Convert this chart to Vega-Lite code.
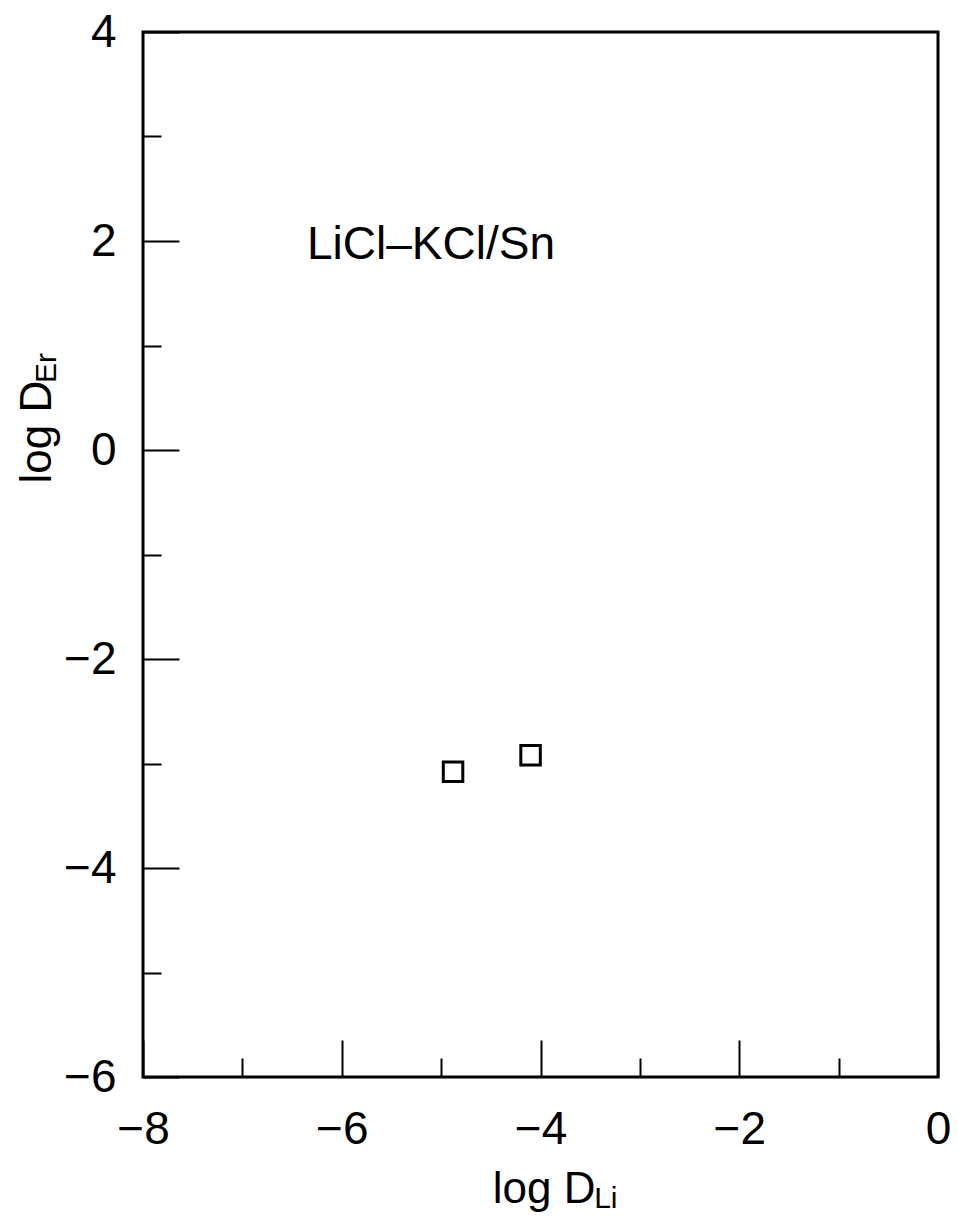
{
  "$schema": "https://vega.github.io/schema/vega-lite/v6.json",
  "width": 795,
  "height": 1045,
  "autosize": "none",
  "padding": {"left": 143, "top": 32, "right": 20, "bottom": 139},
  "background": "white",
  "config": {
    "view": {"stroke": "black", "strokeWidth": 3},
    "font": "Liberation Sans"
  },
  "layer": [
    {
      "data": {"values": [{"x": -4.88, "y": -3.08}, {"x": -4.10, "y": -2.92}]},
      "mark": {"type": "point", "shape": "square", "size": 380, "filled": false, "stroke": "black", "strokeWidth": 3, "opacity": 1},
      "encoding": {
        "x": {
          "field": "x", "type": "quantitative",
          "scale": {"domain": [-8, 0], "nice": false, "zero": false},
          "axis": {
            "title": "log D",
            "values": [-8, -7, -6, -5, -4, -3, -2, -1, 0],
            "format": "d",
            "labelExpr": "datum.value % 2 === 0 ? datum.label : ''",
            "domain": false, "grid": false,
            "tickColor": "black", "tickWidth": 2,
            "tickSize": {"condition": {"test": "datum.value % 2 === 0", "value": -37}, "value": -19},
            "labelFontSize": 46, "labelColor": "black", "labelPadding": 67, "labelFlush": false, "labelFont": "Liberation Sans",
            "titleFontSize": 44, "titleFontWeight": "normal", "titleColor": "black", "titleFont": "Liberation Sans",
            "titleAlign": "right", "titleX": 452, "titleY": 125, "titleBaseline": "alphabetic"
          }
        },
        "y": {
          "field": "y", "type": "quantitative",
          "scale": {"domain": [-6, 4], "nice": false, "zero": false},
          "axis": {
            "title": "log D",
            "values": [-6, -5, -4, -3, -2, -1, 0, 1, 2, 3, 4],
            "format": "d",
            "labelExpr": "datum.value % 2 === 0 ? datum.label : ''",
            "domain": false, "grid": false,
            "tickColor": "black", "tickWidth": 2,
            "tickSize": {"condition": {"test": "datum.value % 2 === 0", "value": -36}, "value": -18},
            "labelFontSize": 46, "labelColor": "black", "labelPadding": 63, "labelFlush": false, "labelFont": "Liberation Sans",
            "titleFontSize": 44, "titleFontWeight": "normal", "titleColor": "black", "titleFont": "Liberation Sans",
            "titleAngle": 270, "titleAlign": "left", "titleX": -93, "titleY": 451, "titleBaseline": "alphabetic"
          }
        }
      }
    },
    {
      "data": {"values": [{"x": -6.35, "y": 1.83, "label": "LiCl–KCl/Sn"}]},
      "mark": {"type": "text", "align": "left", "baseline": "alphabetic", "fontSize": 46, "font": "Liberation Sans", "color": "black"},
      "encoding": {
        "x": {"field": "x", "type": "quantitative"},
        "y": {"field": "y", "type": "quantitative"},
        "text": {"field": "label"}
      }
    },
    {
      "data": {"values": [{"x": -3.46, "y": -7.25, "label": "Li"}]},
      "mark": {"type": "text", "align": "left", "baseline": "alphabetic", "fontSize": 30, "font": "Liberation Sans", "color": "black"},
      "encoding": {
        "x": {"field": "x", "type": "quantitative"},
        "y": {"field": "y", "type": "quantitative"},
        "text": {"field": "label"}
      }
    },
    {
      "data": {"values": [{"x": -8.875, "y": 0.64, "label": "Er"}]},
      "mark": {"type": "text", "align": "left", "baseline": "alphabetic", "angle": 270, "fontSize": 30, "font": "Liberation Sans", "color": "black"},
      "encoding": {
        "x": {"field": "x", "type": "quantitative"},
        "y": {"field": "y", "type": "quantitative"},
        "text": {"field": "label"}
      }
    }
  ]
}
